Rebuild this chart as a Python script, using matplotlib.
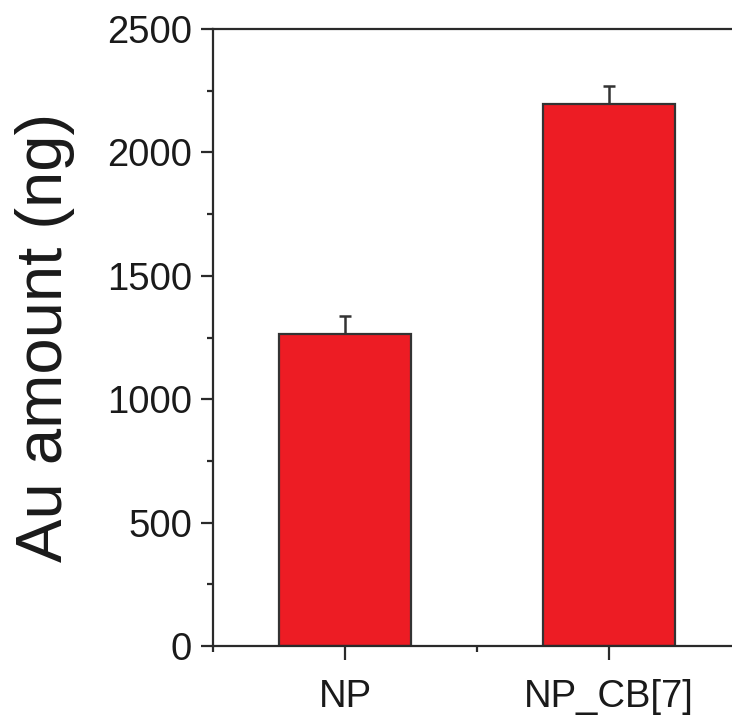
import numpy as np
import matplotlib
matplotlib.use('Agg')
import matplotlib.pyplot as plt
from matplotlib.ticker import MultipleLocator, FixedLocator

plt.rcParams['font.family'] = ['Liberation Sans', 'DejaVu Sans']

# 数据
groups = ['NP', 'NP_CB[7]']
au_amount = [1264, 2196]      # Au 含量 (ng)
au_err = [73, 73]             # 误差 (仅上方)

fig = plt.figure(figsize=(7.32, 7.17), dpi=100)
# 右侧坐标轴超出画布（原图被裁切）
ax = fig.add_axes([0.291, 0.099, 0.7213, 0.8605])

x = np.arange(len(groups))
ax.bar(x, au_amount, width=0.5, color='#ED1C24', edgecolor='#333333', linewidth=1.6, zorder=2)
ax.errorbar(x, au_amount, yerr=[np.zeros(len(au_err)), au_err], fmt='none',
            ecolor='#333333', elinewidth=1.8, capsize=4, capthick=1.8, zorder=1)

ax.set_xlim(-0.5, 1.5)
ax.set_ylim(0, 2500)

ax.set_xticks(x)
ax.set_xticklabels(groups)
ax.xaxis.set_minor_locator(FixedLocator([-0.5, 0.5, 1.5]))
ax.yaxis.set_major_locator(MultipleLocator(500))
ax.yaxis.set_minor_locator(MultipleLocator(250))

for s in ax.spines.values():
    s.set_linewidth(1.6)
    s.set_color('#2a2a2a')

ax.tick_params(axis='both', which='major', direction='out', length=9, width=1.6,
               color='#2a2a2a', labelsize=27.5, labelcolor='#1a1a1a')
ax.tick_params(axis='both', which='minor', direction='out', length=4.5, width=1.6, color='#2a2a2a')
ax.tick_params(axis='x', which='major', length=10, pad=14)
ax.tick_params(axis='y', which='major', pad=6)

ax.set_ylabel('Au amount (ng)', fontsize=47, color='#1a1a1a', labelpad=23)

fig.savefig('out.png', dpi=100)
